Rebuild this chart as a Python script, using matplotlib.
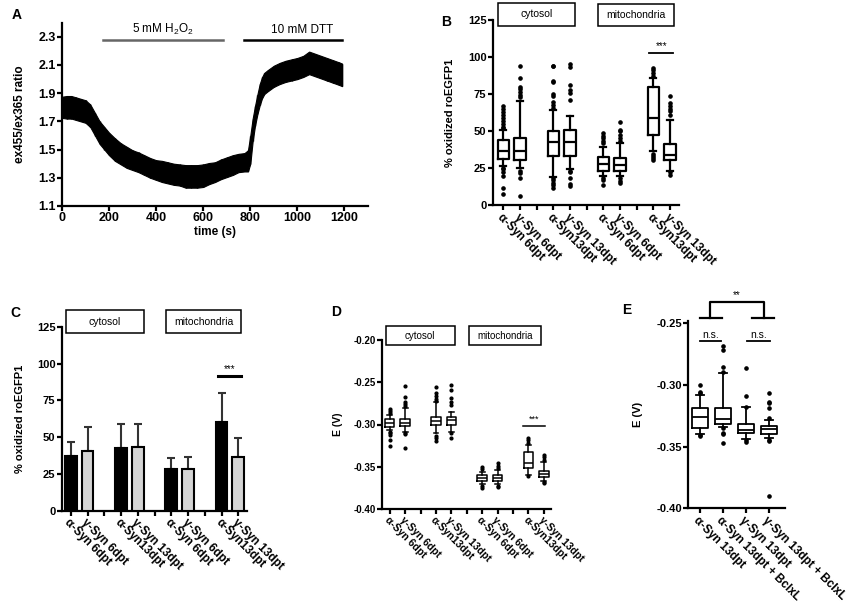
import numpy as np
import matplotlib
matplotlib.use("Agg")
import matplotlib.pyplot as plt
from matplotlib.patches import Rectangle
from matplotlib.transforms import blended_transform_factory

plt.rcParams['font.family'] = ['Liberation Sans', 'DejaVu Sans']
plt.rcParams['mathtext.fontset'] = 'custom'
plt.rcParams['mathtext.rm'] = 'Liberation Sans'
plt.rcParams['mathtext.it'] = 'Liberation Sans:italic'
plt.rcParams['mathtext.bf'] = 'Liberation Sans:bold'

# ---- panel A : ratio trace (mean +/- sd)
a_time = [0, 20, 40, 60, 80, 100, 120, 140, 160, 180, 200, 225, 250, 275, 300, 325,
          350, 375, 400, 425, 450, 475, 500, 525, 550, 575, 600, 625, 650, 675, 700,
          725, 750, 775, 790, 800, 810, 820, 830, 840, 850, 860, 875, 900, 925, 950,
          975, 1000, 1025, 1050, 1075, 1100, 1125, 1150, 1175, 1190]
a_mean = [1.80, 1.80, 1.80, 1.79, 1.78, 1.77, 1.74, 1.68, 1.62, 1.58, 1.54, 1.50,
          1.47, 1.445, 1.425, 1.41, 1.39, 1.37, 1.355, 1.345, 1.335, 1.325, 1.32,
          1.31, 1.31, 1.31, 1.315, 1.33, 1.34, 1.36, 1.375, 1.39, 1.405, 1.41, 1.42,
          1.50, 1.64, 1.74, 1.82, 1.89, 1.94, 1.97, 1.99, 2.02, 2.04, 2.055, 2.065,
          2.075, 2.09, 2.115, 2.10, 2.085, 2.07, 2.055, 2.04, 2.03]
a_sd = [0.075, 0.08, 0.08, 0.08, 0.08, 0.08, 0.08, 0.08, 0.08, 0.08, 0.08, 0.08,
        0.075, 0.075, 0.07, 0.07, 0.07, 0.07, 0.07, 0.075, 0.075, 0.075, 0.075, 0.08,
        0.08, 0.08, 0.08, 0.075, 0.07, 0.07, 0.07, 0.07, 0.065, 0.065, 0.075, 0.10,
        0.08, 0.07, 0.07, 0.075, 0.075, 0.075, 0.075, 0.075, 0.075, 0.075, 0.075,
        0.075, 0.075, 0.08, 0.08, 0.08, 0.08, 0.08, 0.08, 0.08]

# ---- panels B / C / D : cytosol + mitochondria groups
grp_labels = ["α-Syn 6dpt", "γ-Syn 6dpt", "α-Syn13dpt", "γ-Syn 13dpt",
              "α-Syn 6dpt", "γ-Syn 6dpt", "α-Syn13dpt", "γ-Syn 13dpt"]
grp_pos = [1, 2, 4, 5, 7, 8, 10, 11]

b_q1 = [31, 30.1, 33, 33, 22.9, 22.9, 47.6, 30.3]
b_med = [36.4, 36.8, 42.4, 42.4, 27.4, 26.7, 58.8, 34.1]
b_q3 = [43.8, 45.3, 49.8, 50.5, 32.3, 31.9, 79.4, 41.3]
b_lo = [26.3, 24.7, 19, 24, 19.5, 19.5, 36.8, 22.9]
b_hi = [51, 70, 64, 60.4, 39, 42, 85.7, 57.7]
b_fliers = [
    [67, 65, 63, 61, 59, 56.5, 55, 53, 52, 25, 24, 22, 19.5, 11.7, 7.6],
    [94, 85.7, 80, 78.5, 76.3, 74, 73, 23.3, 21.8, 18, 6],
    [93.6, 93.6, 83.5, 83, 75, 73.4, 69.6, 67.8, 65.5, 18.4, 16.8, 15, 13.5, 11.7],
    [95, 93, 80.8, 78, 75.6, 71, 23.3, 22.5, 18.4, 13.9, 12.8],
    [48.7, 46.5, 45, 43.5, 42, 18.4, 16.6, 13.5],
    [56, 51, 49.8, 47.6, 45.3, 43.5, 18.4, 16.2, 15],
    [92.5, 91.4, 89, 87.4, 34.6, 33, 31.9, 30.7],
    [73.4, 68.9, 66.6, 65, 63.3, 61, 22, 20.6],
]

c_mean = [37.1, 40.5, 42.3, 43.0, 28.1, 28.1, 60.4, 36.7]
c_sd = [9.8, 16.5, 16.6, 15.9, 7.4, 8.6, 19.3, 12.4]
c_colors = ["black", "#d4d4d4"] * 4

d_q1 = [-0.3026, -0.302, -0.3006, -0.3006, -0.3665, -0.3665, -0.3511, -0.3617]
d_med = [-0.2986, -0.2986, -0.2955, -0.2947, -0.363, -0.363, -0.346, -0.3586]
d_q3 = [-0.2939, -0.2939, -0.2915, -0.2907, -0.3598, -0.3598, -0.3322, -0.355]
d_lo = [-0.3065, -0.3085, -0.310, -0.3085, -0.3704, -0.3704, -0.3598, -0.3665]
d_hi = [-0.2888, -0.281, -0.273, -0.2848, -0.3558, -0.3539, -0.3243, -0.3448]
d_fliers = [
    [-0.282, -0.284, -0.286, -0.3085, -0.310, -0.312, -0.318, -0.3255],
    [-0.2544, -0.267, -0.273, -0.2757, -0.278, -0.310, -0.311, -0.328],
    [-0.2552, -0.263, -0.266, -0.270, -0.272, -0.3136, -0.316, -0.319],
    [-0.2533, -0.259, -0.269, -0.273, -0.277, -0.3105, -0.316],
    [-0.3507, -0.353, -0.3724, -0.3755],
    [-0.346, -0.349, -0.351, -0.3724, -0.374],
    [-0.3164, -0.318, -0.322, -0.3606],
    [-0.336, -0.339, -0.342, -0.3677, -0.3696],
]

# ---- panel E : 13dpt with / without BclxL
e_labels = ["α-Syn 13dpt", "α-Syn 13dpt + BclxL", "γ-Syn 13dpt", "γ-Syn 13dpt + BclxL"]
e_pos = [1, 2, 3, 4]
e_q1 = [-0.3351, -0.3319, -0.3392, -0.3397]
e_med = [-0.3257, -0.3278, -0.3365, -0.3359]
e_q3 = [-0.3189, -0.3184, -0.3319, -0.3332]
e_lo = [-0.3397, -0.3338, -0.3438, -0.3432]
e_hi = [-0.3081, -0.2905, -0.3176, -0.3284]
e_fliers = [
    [-0.3005, -0.3055, -0.3068, -0.3405, -0.3414],
    [-0.2689, -0.2716, -0.2857, -0.2897, -0.3350, -0.3386, -0.3395, -0.3473],
    [-0.2865, -0.3089, -0.3176, -0.3446, -0.346],
    [-0.3068, -0.3135, -0.3150, -0.3189, -0.3270, -0.3446, -0.3455, -0.390],
]

W, H = 856, 607
fig = plt.figure(figsize=(W / 100, H / 100), dpi=100)


def px_axes(left, top, right, bottom):
    return fig.add_axes([left / W, 1 - bottom / H, (right - left) / W, (bottom - top) / H])


def style(ax, size=8):
    for s in ("top", "right"):
        ax.spines[s].set_visible(False)
    for s in ("left", "bottom"):
        ax.spines[s].set_linewidth(1.6)
    ax.tick_params(width=1.6, length=3.5, labelsize=size, pad=1)
    for lab in ax.get_xticklabels() + ax.get_yticklabels():
        lab.set_fontweight("bold")


def region_box(ax, x0, x1, y0, y1, label, size=7.5):
    tr = blended_transform_factory(ax.transData, ax.transAxes)
    ax.add_patch(Rectangle((x0, y0), x1 - x0, y1 - y0, transform=tr, facecolor="white",
                           edgecolor="black", lw=1.1, clip_on=False, zorder=5))
    ax.text((x0 + x1) / 2, (y0 + y1) / 2, label, transform=tr, ha="center", va="center",
            fontsize=size, zorder=6)


def rot_labels(ax, labels, size=8.5):
    for lab in ax.get_xticklabels():
        lab.set_rotation(-45)
        lab.set_ha("left")
        lab.set_va("top")
        lab.set_rotation_mode("anchor")
        lab.set_fontsize(size)
        lab.set_fontweight("bold")


def make_stats(q1, med, q3, lo, hi, fliers):
    return [dict(q1=a, med=b, q3=c, whislo=d, whishi=e, fliers=f)
            for a, b, c, d, e, f in zip(q1, med, q3, lo, hi, fliers)]


def boxes(ax, stats, pos, width, lw, ms):
    ax.bxp(stats, positions=pos, widths=width, capwidths=width * 0.5,
           boxprops=dict(lw=lw, color="black"), whiskerprops=dict(lw=lw, color="black"),
           capprops=dict(lw=lw, color="black"), medianprops=dict(lw=lw, color="black"),
           flierprops=dict(marker="o", markerfacecolor="black", markeredgecolor="black",
                           markersize=ms, linestyle="none"))


def xticks_groups(ax, size):
    ticks = list(range(1, 12))
    names = [grp_labels[grp_pos.index(t)] if t in grp_pos else "" for t in ticks]
    ax.set_xticks(ticks)
    ax.set_xticklabels(names)
    style(ax, size)
    rot_labels(ax, names, size + 0.5)


# ---------------- A
axA = px_axes(62, 22.7, 368, 206)
t = np.array(a_time)
m = np.array(a_mean)
sd = np.array(a_sd)
axA.fill_between(t, m - sd, m + sd, color="black", lw=0.8)
axA.vlines(t, m - sd, m + sd, color="black", lw=1)
axA.set_xlim(0, 1300)
axA.set_ylim(1.1, 2.4)
axA.set_xticks(range(0, 1201, 200))
axA.set_yticks([1.1, 1.3, 1.5, 1.7, 1.9, 2.1, 2.3])
axA.set_xlabel("time (s)", fontsize=8.5, fontweight="bold", labelpad=1)
axA.set_ylabel("ex455/ex365 ratio", fontsize=8.5, fontweight="bold")
axA.yaxis.set_label_coords(-0.118, 0.5)
style(axA, 9)
axA.plot([175, 682], [2.28, 2.28], color="0.4", lw=1.8, clip_on=False)
axA.text(428, 2.35, "5 mM H$_2$O$_2$", ha="center", va="center", fontsize=8.5)
axA.plot([775, 1190], [2.28, 2.28], color="black", lw=1.8, clip_on=False)
axA.text(1021, 2.35, "10 mM DTT", ha="center", va="center", fontsize=8.5)

# ---------------- B
axB = px_axes(492.7, 20, 679, 205)
boxes(axB, make_stats(b_q1, b_med, b_q3, b_lo, b_hi, b_fliers), grp_pos, 0.7, 1.6, 2.3)
axB.set_xlim(0.36, 11.54)
axB.set_ylim(0, 125)
axB.set_yticks([0, 25, 50, 75, 100, 125])
xticks_groups(axB, 8)
axB.set_ylabel("% oxidized roEGFP1", fontsize=8, fontweight="bold")
axB.yaxis.set_label_coords(-0.202, 0.5)
region_box(axB, 0.68, 5.3, 0.97, 1.09, "cytosol")
region_box(axB, 6.66, 11.24, 0.967, 1.085, "mitochondria")
axB.plot([9.75, 11.2], [102.5, 102.5], color="black", lw=1.3)
axB.text(10.47, 104, "***", ha="center", va="bottom", fontsize=7)

# ---------------- C
axC = px_axes(61.7, 326.7, 246.7, 510.7)
axC.bar(grp_pos, c_mean, width=0.7, color=c_colors, edgecolor="black", lw=1.5, zorder=3)
axC.errorbar(grp_pos, c_mean, yerr=[np.zeros(len(c_sd)), c_sd], fmt="none",
             ecolor="0.2", elinewidth=1.5, capsize=3, capthick=1.5, zorder=2)
axC.set_xlim(0.46, 11.5)
axC.set_ylim(0, 125)
axC.set_yticks([0, 25, 50, 75, 100, 125])
xticks_groups(axC, 8)
axC.set_ylabel("% oxidized roEGFP1", fontsize=8, fontweight="bold")
axC.yaxis.set_label_coords(-0.198, 0.5)
region_box(axC, 0.72, 5.35, 0.964, 1.089, "cytosol")
region_box(axC, 6.7, 11.14, 0.964, 1.089, "mitochondria")
axC.plot([9.78, 11.14], [91.5, 91.5], color="black", lw=2.2)
axC.text(10.46, 93, "***", ha="center", va="bottom", fontsize=7)

# ---------------- D
axD = px_axes(381.7, 340, 551, 509)
boxes(axD, make_stats(d_q1, d_med, d_q3, d_lo, d_hi, d_fliers), grp_pos, 0.62, 1.1, 2.0)
axD.set_xlim(0.48, 11.47)
axD.set_ylim(-0.40, -0.20)
axD.set_yticks([-0.40, -0.35, -0.30, -0.25, -0.20])
axD.yaxis.set_major_formatter(matplotlib.ticker.FormatStrFormatter("%.2f"))
xticks_groups(axD, 7)
axD.set_ylabel("E (V)", fontsize=7.5, fontweight="bold")
axD.yaxis.set_label_coords(-0.229, 0.5)
region_box(axD, 0.74, 5.21, 0.97, 1.083, "cytosol", 7)
region_box(axD, 6.14, 10.85, 0.97, 1.083, "mitochondria", 7)
axD.plot([9.68, 11.1], [-0.3014, -0.3014], color="black", lw=1.1)
axD.text(10.39, -0.2995, "***", ha="center", va="bottom", fontsize=6.5)

# ---------------- E
axE = px_axes(688.3, 321.3, 785, 508.3)
boxes(axE, make_stats(e_q1, e_med, e_q3, e_lo, e_hi, e_fliers), e_pos, 0.68, 1.3, 2.3)
axE.set_xlim(0.5, 4.7)
axE.set_ylim(-0.40, -0.2485)
axE.set_yticks([-0.40, -0.35, -0.30, -0.25])
axE.yaxis.set_major_formatter(matplotlib.ticker.FormatStrFormatter("%.2f"))
axE.set_xticks(e_pos)
axE.set_xticklabels(e_labels)
style(axE, 8)
rot_labels(axE, e_labels, 8.5)
axE.set_ylabel("E (V)", fontsize=8, fontweight="bold")
axE.yaxis.set_label_coords(-0.468, 0.5)
for x0, x1, xt in ((1.0, 1.9, 1.46), (3.07, 4.05, 3.56)):
    axE.plot([x0, x1], [-0.2643, -0.2643], color="black", lw=1.3, clip_on=False)
    axE.text(xt, -0.2635, "n.s.", ha="center", va="bottom", fontsize=7.5)
axE.plot([1.0, 1.97], [-0.246, -0.246], color="black", lw=1.6, clip_on=False)
axE.plot([3.27, 4.24], [-0.246, -0.246], color="black", lw=1.6, clip_on=False)
axE.plot([1.43, 1.43, 3.77, 3.77], [-0.246, -0.233, -0.233, -0.246], color="black",
         lw=1.6, clip_on=False)
axE.text(2.6, -0.2315, "**", ha="center", va="bottom", fontsize=7)

# panel letters
for letter, x, y in (("A", 17, 15), ("B", 446, 22), ("C", 15, 313), ("D", 336, 312),
                     ("E", 627, 310)):
    fig.text(x / W, 1 - y / H, letter, ha="center", va="center", fontsize=10,
             fontweight="bold")

fig.savefig("out.png", dpi=100)
